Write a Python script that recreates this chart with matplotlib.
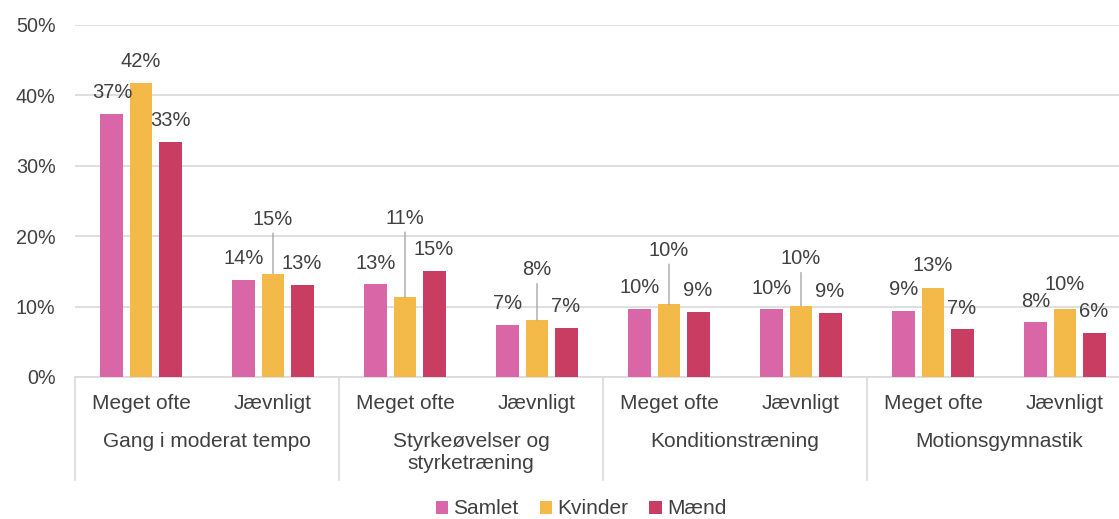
import numpy as np
import matplotlib.pyplot as plt

plt.rcParams['font.family'] = ['Liberation Sans', 'DejaVu Sans']

# data
groups = ["Gang i moderat tempo", "Styrkeøvelser og\nstyrketræning",
          "Konditionstræning", "Motionsgymnastik"]
subcats = ["Meget ofte", "Jævnligt"] * 4
series = ["Samlet", "Kvinder", "Mænd"]
samlet = [37.4, 13.8, 13.2, 7.4, 9.7, 9.6, 9.4, 7.8]
kvinder = [41.7, 14.7, 11.3, 8.1, 10.3, 10.1, 12.7, 9.7]
maend = [33.4, 13.1, 15.1, 7.0, 9.3, 9.1, 6.8, 6.3]

colors = ["#D966A6", "#F3BA4A", "#C93D62"]
txt = "#404040"
grid = "#D9D9D9"

# label offsets for Kvinder (pixels above bar top), leader lines when far
kv_off = [22, 54, 79, 50, 54, 47, 22, 24]

fig = plt.figure(figsize=(11.19, 5.19), dpi=100)
ax = fig.add_axes([75 / 1119, 142 / 519, 1056 / 1119, 352 / 519])

x = np.arange(len(subcats))
step = 0.22
w = 0.174
vals = [samlet, kvinder, maend]
for k, (name, v) in enumerate(zip(series, vals)):
    xs = x + (k - 1) * step
    ax.bar(xs, v, width=w, color=colors[k], label=name, zorder=3)
    for i, (xi, yi) in enumerate(zip(xs, v)):
        lab = "%d%%" % round(yi)
        if k == 1:
            off = kv_off[i]
            ap = None
            if off > 30:
                ap = dict(arrowstyle='-', color='#A6A6A6', lw=1,
                          shrinkA=1, shrinkB=0)
            ax.annotate(lab, (xi, yi), xytext=(0, off), textcoords='offset pixels',
                        ha='center', va='center', fontsize=14.5, color=txt,
                        arrowprops=ap, zorder=4)
        else:
            ax.annotate(lab, (xi, yi), xytext=(0, 21), textcoords='offset pixels',
                        ha='center', va='center', fontsize=14.5, color=txt, zorder=4)

ax.set_xlim(-0.5, 7.5)
ax.set_ylim(0, 50)
ax.set_yticks(range(0, 51, 10))
ax.set_yticklabels(["%d%%" % t for t in range(0, 51, 10)])
ax.tick_params(axis='y', length=0, pad=14, labelsize=14.2, labelcolor=txt)
ax.set_xticks([])
ax.grid(axis='y', color=grid, lw=1.2, zorder=0)
for s in ['top', 'right', 'left']:
    ax.spines[s].set_visible(False)
ax.spines['bottom'].set_color(grid)
ax.spines['bottom'].set_linewidth(1.2)

# multi-level category axis
trans = ax.get_xaxis_transform()
for i, s in enumerate(subcats):
    ax.text(i, -0.074, s, transform=trans, ha='center', va='center',
            fontsize=15, color=txt)
for g, name in enumerate(groups):
    ax.text(2 * g + 0.5, -0.155, name, transform=trans, ha='center', va='top',
            fontsize=15, color=txt, linespacing=1.25)
for sx in [-0.5, 1.5, 3.5, 5.5]:
    ax.plot([sx, sx], [0, -0.293], transform=trans, color=grid, lw=1.2,
            clip_on=False)

fig.legend(loc='center', bbox_to_anchor=(581 / 1119, 10 / 519), ncol=3,
           frameon=False, fontsize=15, labelcolor=txt, handlelength=0.6,
           handleheight=0.6, handletextpad=0.25, columnspacing=1.0)

fig.savefig("out.png", dpi=100)
